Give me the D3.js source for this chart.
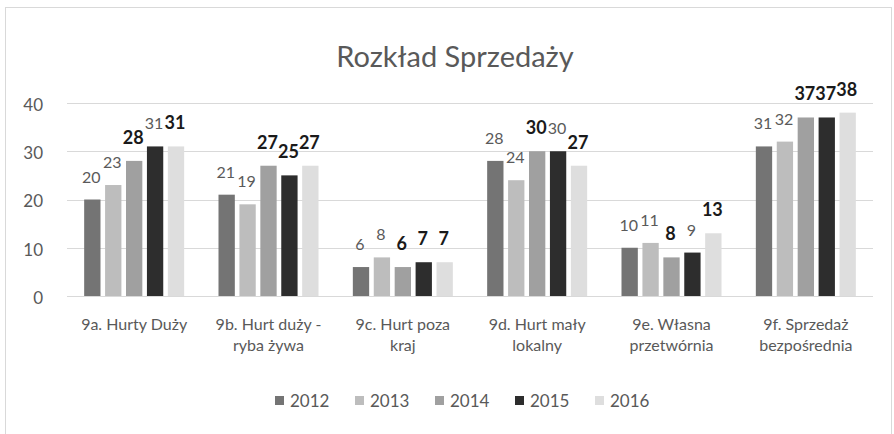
<!DOCTYPE html>
<html>
<head>
<meta charset="utf-8">
<script src="https://cdn.jsdelivr.net/npm/d3@7"></script>
<style>
  html, body { margin: 0; padding: 0; background: #fff; }
  svg { display: block; }
  text { font-family: Lato, "Open Sans", sans-serif; }
</style>
</head>
<body>
<svg id="chart" width="894" height="434"></svg>
<script>
// ---- data ----
const title = "Rozkład Sprzedaży";
const categories = [
  ["9a. Hurty Duży"],
  ["9b. Hurt duży -", "ryba żywa"],
  ["9c. Hurt poza", "kraj"],
  ["9d. Hurt mały", "lokalny"],
  ["9e. Własna", "przetwórnia"],
  ["9f. Sprzedaż", "bezpośrednia"]
];
const years = ["2012", "2013", "2014", "2015", "2016"];
const v2012 = [20, 21, 6, 28, 10, 31];
const v2013 = [23, 19, 8, 24, 11, 32];
const v2014 = [28, 27, 6, 30, 8, 37];
const v2015 = [31, 25, 7, 30, 9, 37];
const v2016 = [31, 27, 7, 27, 13, 38];
const yTicks = [0, 10, 20, 30, 40];

// ---- styles ----
const colors = ["#747474", "#bdbdbd", "#a0a0a0", "#2d2d2d", "#dedede"];
const boldLabels = [
  [0,0,1,0,1],
  [0,0,1,1,1],
  [0,0,1,1,1],
  [0,0,1,0,1],
  [0,0,1,0,1],
  [0,0,1,1,1]
];

const series = [v2012, v2013, v2014, v2015, v2016];
const svg = d3.select("#chart");

// frame
svg.append("rect").attr("x", 5.5).attr("y", 7.5).attr("width", 886).attr("height", 440)
  .attr("fill", "#fff").attr("stroke", "#d9d9d9");

const x0 = d3.scaleBand().domain(d3.range(categories.length)).range([67, 873])
  .paddingInner(0.2556).paddingOuter(0.1278);
const x1 = d3.scaleBand().domain(d3.range(years.length)).range([0, x0.bandwidth()])
  .paddingInner(0.22).paddingOuter(0);
const y = d3.scaleLinear().domain([0, 40]).range([296, 103]);

// title
svg.append("text").attr("x", 455).attr("y", 67).attr("text-anchor", "middle")
  .attr("font-size", 29).attr("fill", "#595959").text(title);

// gridlines
svg.append("g").selectAll("line").data(yTicks).join("line")
  .attr("x1", 67).attr("x2", 873)
  .attr("y1", d => Math.round(y(d)) + 0.5).attr("y2", d => Math.round(y(d)) + 0.5)
  .attr("stroke", "#d9d9d9").attr("stroke-width", 1);

// y axis labels
const yAxis = d3.axisLeft(y).tickValues(yTicks).tickSize(0).tickPadding(0);
const gy = svg.append("g").attr("transform", "translate(43,2)").call(yAxis);
gy.select(".domain").remove();
gy.selectAll("text").attr("font-size", 17).attr("fill", "#595959")
  .style("font-family", 'Lato, "Open Sans", sans-serif');

// bars
const groups = svg.append("g").selectAll("g").data(categories).join("g")
  .attr("transform", (d, i) => `translate(${x0(i)},0)`);

groups.each(function(cat, ci) {
  const g = d3.select(this);
  years.forEach((yr, si) => {
    const v = series[si][ci];
    g.append("rect")
      .attr("x", x1(si)).attr("width", x1.bandwidth())
      .attr("y", y(v)).attr("height", y(0) - y(v))
      .attr("fill", colors[si]);
  });
  years.forEach((yr, si) => {
    const v = series[si][ci];
    const b = boldLabels[ci][si];
    g.append("text")
      .attr("x", x1(si) + x1.bandwidth() / 2 - 1)
      .attr("y", y(v) - 17)
      .attr("text-anchor", "middle")
      .attr("font-size", b ? 18 : 16)
      .attr("font-weight", b ? "bold" : "normal")
      .attr("fill", b ? "#1a1a1a" : "#5a5a5a")
      .text(v);
  });
});

// category labels
const gx = svg.append("g");
categories.forEach((lines, ci) => {
  const t = gx.append("text")
    .attr("x", x0(ci) + x0.bandwidth() / 2)
    .attr("y", 330)
    .attr("text-anchor", "middle")
    .attr("font-size", 16).attr("fill", "#595959");
  lines.forEach((ln, li) => {
    t.append("tspan").attr("x", x0(ci) + x0.bandwidth() / 2)
      .attr("dy", li === 0 ? 0 : 21).text(ln);
  });
});

// legend
const legend = svg.append("g").attr("transform", "translate(275,0)");
years.forEach((yr, si) => {
  const lg = legend.append("g").attr("transform", `translate(${si * 80},0)`);
  lg.append("rect").attr("x", 0).attr("y", 396).attr("width", 9).attr("height", 9).attr("fill", colors[si]);
  lg.append("text").attr("x", 15).attr("y", 407).attr("font-size", 17).attr("fill", "#595959").text(yr);
});
</script>
</body>
</html>
